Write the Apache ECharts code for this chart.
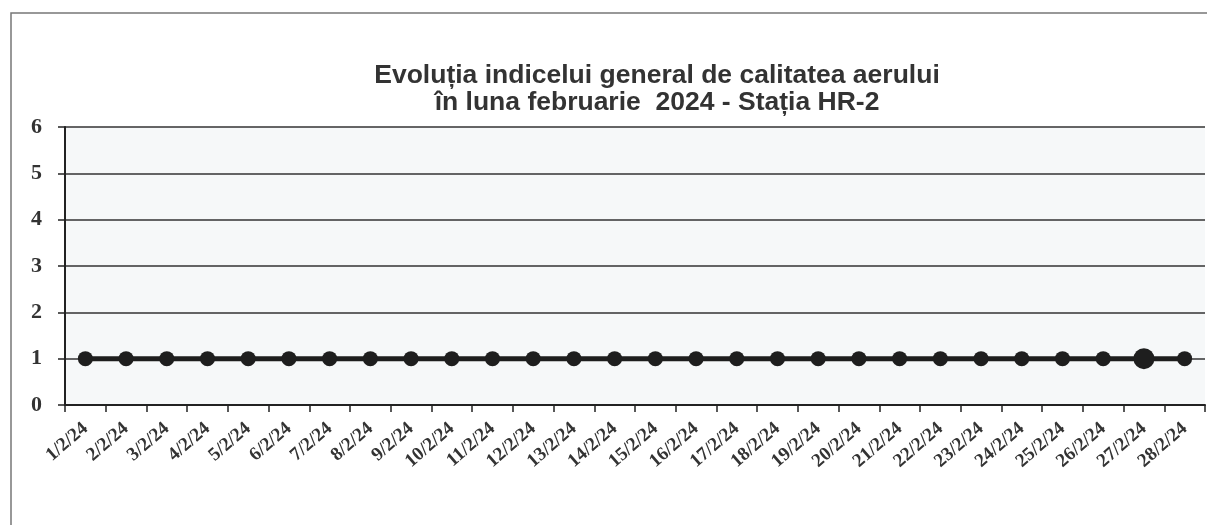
<!DOCTYPE html>
<html>
<head>
<meta charset="utf-8">
<script src="https://cdn.jsdelivr.net/npm/echarts@6/dist/echarts.min.js"></script>
<style>
  html, body { margin: 0; padding: 0; background: #fff; }
  #chart { width: 1207px; height: 525px; }
</style>
</head>
<body>
<div id="chart"></div>
<script>
// zilele lunii februarie 2024
var zile = ['1/2/24','2/2/24','3/2/24','4/2/24','5/2/24','6/2/24','7/2/24','8/2/24','9/2/24','10/2/24',
  '11/2/24','12/2/24','13/2/24','14/2/24','15/2/24','16/2/24','17/2/24','18/2/24','19/2/24','20/2/24',
  '21/2/24','22/2/24','23/2/24','24/2/24','25/2/24','26/2/24','27/2/24','28/2/24']
// indicele general (toate zilele = 1)
var indice = [1,1,1,1,1,1,1,1,1,1,1,1,1,1,1,1,1,1,1,1,1,1,1,1,1,1,1,1]
var yTicks = [0, 1, 2, 3, 4, 5, 6]

var chart = echarts.init(document.getElementById('chart'))

var puncte = indice.map(function (v, i) {
  // punctul de pe 27/2 apare mai mare in original
  return zile[i] === '27/2/24' ? { value: v, symbolSize: 21 } : v
})

var option = {
  backgroundColor: '#ffffff',
  animation: false,
  title: {
    text: 'Evoluția indicelui general de calitatea aerului\nîn luna februarie  2024 - Stația HR-2',
    left: 652,
    top: 57,
    textAlign: 'center',
    textStyle: {
      fontFamily: 'Liberation Sans, Arial, sans-serif',
      fontWeight: 'bold',
      fontSize: 26.5,
      lineHeight: 27,
      color: '#333'
    }
  },
  graphic: [{
    type: 'rect',
    shape: { x: 11, y: 13, width: 1210, height: 530 },
    style: { fill: 'none', stroke: '#777', lineWidth: 1.5 },
    silent: true,
    z: -1
  }],
  grid: {
    left: 65,
    right: 2,
    top: 127,
    bottom: 120,
    show: true,
    backgroundColor: '#f6f8f9',
    borderWidth: 0
  },
  xAxis: {
    type: 'category',
    data: zile,
    boundaryGap: true,
    axisLine: { lineStyle: { color: '#222', width: 2 } },
    axisTick: { show: true, length: 7, lineStyle: { color: '#222', width: 1.5 } },
    axisLabel: {
      rotate: 41,
      interval: 0,
      margin: 21,
      fontFamily: 'Liberation Serif, Times New Roman, serif',
      fontWeight: 'bold',
      fontSize: 19,
      color: '#333'
    }
  },
  yAxis: {
    type: 'value',
    min: yTicks[0],
    max: yTicks[yTicks.length - 1],
    interval: 1,
    axisLine: { show: true, lineStyle: { color: '#222', width: 2 } },
    axisTick: { show: true, length: 7, lineStyle: { color: '#222', width: 1.5 } },
    splitLine: { show: true, lineStyle: { color: '#333', width: 1.5 } },
    axisLabel: {
      margin: 23,
      fontFamily: 'Liberation Serif, Times New Roman, serif',
      fontWeight: 'bold',
      fontSize: 22,
      color: '#333'
    }
  },
  series: [{
    type: 'line',
    data: puncte,
    symbol: 'circle',
    symbolSize: 15,
    lineStyle: { color: '#1e1e1e', width: 5 },
    itemStyle: { color: '#1e1e1e' }
  }]
}

chart.setOption(option)
</script>
</body>
</html>
